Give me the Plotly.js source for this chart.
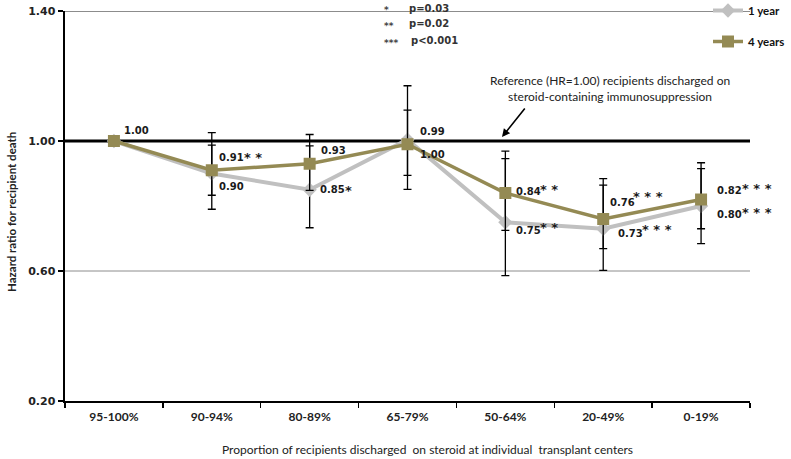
<!DOCTYPE html>
<html>
<head>
<meta charset="utf-8">
<script src="https://cdn.plot.ly/plotly-3.0.1.min.js"></script>
<style>html,body{margin:0;padding:0;background:#fff;}#chart{width:791px;height:459px;}</style>
</head>
<body>
<div id="chart"></div>
<script>
// ---- data ----
const categories = ['95-100%', '90-94%', '80-89%', '65-79%', '50-64%', '20-49%', '0-19%'];
const hr1Year  = [1.00, 0.90, 0.85, 1.004, 0.75, 0.73, 0.80];
const ci1YearLow  = [null, 0.79, 0.733, 0.851, 0.586, 0.602, 0.684];
const ci1YearHigh = [null, 1.026, 0.985, 1.17, 0.946, 0.884, 0.933];
const hr4Years = [1.00, 0.91, 0.93, 0.99, 0.84, 0.76, 0.82];
const ci4YearsLow  = [null, 0.833, 0.848, 0.894, 0.725, 0.669, 0.730];
const ci4YearsHigh = [null, 0.987, 1.02, 1.095, 0.969, 0.864, 0.915];
const stars1Year  = ['', '', '*', '', '**', '***', '***'];
const stars4Years = ['', '**', '', '', '**', '***', '***'];
const yTickValues = [0.20, 0.60, 1.00, 1.40];
const referenceHR = 1.00;
const pValueKey = [['*', 'p=0.03'], ['**', 'p=0.02'], ['***', 'p<0.001']];

// ---- styling / label placement (pixel offsets from each point) ----
const lab1Off = [null, [5, 13], [8, 0], [10, 15], [9, 8], [13, 5], [14, 8]];
const lab4Off = [[8, -11], [5, -13], [9, -13], [10, -13], [9, -2], [5, -17], [14, -9]];
const star1Off = [null, null, [39, -3], null, [44, 1], [54, -3], [56, 2]];
const star4Off = [null, [41, -17], null, null, [44, -8], [45, -27], [56, -15]];

const grey = '#c0c0c0', olive = '#948a54';
const errUp = (hi, v) => hi.map((h, i) => h == null ? null : h - v[i]);
const errDn = (lo, v) => lo.map((l, i) => l == null ? null : v[i] - l);

const trace1 = {
  x: categories, y: hr1Year, name: '1 year', type: 'scatter', mode: 'lines+markers',
  line: {color: grey, width: 4},
  marker: {symbol: 'diamond', size: 11, color: grey},
  error_y: {type: 'data', symmetric: false, array: errUp(ci1YearHigh, hr1Year),
            arrayminus: errDn(ci1YearLow, hr1Year), color: '#000', thickness: 1.3, width: 4},
  legendgroup: 'a'
};
const trace4 = {
  x: categories, y: hr4Years, name: '4 years', type: 'scatter', mode: 'lines+markers',
  line: {color: olive, width: 3.5},
  marker: {symbol: 'square', size: 12, color: olive},
  error_y: {type: 'data', symmetric: false, array: errUp(ci4YearsHigh, hr4Years),
            arrayminus: errDn(ci4YearsLow, hr4Years), color: '#000', thickness: 1.3, width: 4},
  legendgroup: 'b'
};

const labFont = {family: 'DejaVu Sans', size: 10, color: '#1a1a1a', weight: 'bold'};
const starFont = {family: 'DejaVu Sans', size: 13, color: '#1a1a1a', weight: 'bold'};
const ann = [];
function addLabels(vals, offs, stars, sOffs) {
  vals.forEach((v, i) => {
    if (offs[i]) ann.push({x: categories[i], y: v, xref: 'x', yref: 'y', text: v.toFixed(2),
      showarrow: false, xanchor: 'left', yanchor: 'middle', xshift: offs[i][0], yshift: -offs[i][1], font: labFont});
    if (stars[i] && sOffs[i]) ann.push({x: categories[i], y: v, xref: 'x', yref: 'y',
      text: stars[i].split('').join(' '), showarrow: false, xanchor: 'center', yanchor: 'middle',
      xshift: sOffs[i][0], yshift: -sOffs[i][1] - 4, font: starFont});
  });
}
addLabels(hr1Year, lab1Off, stars1Year, star1Off);
addLabels(hr4Years, lab4Off, stars4Years, star4Off);

// p-value key (paper coords from pixel positions)
const px = x => (x - 65) / 685, py = y => (401 - y) / 390;
pValueKey.forEach((row, i) => {
  const yy = [8, 24, 41][i];
  ann.push({x: px(382), y: py(yy + 2), xref: 'paper', yref: 'paper', text: row[0], showarrow: false,
    xanchor: 'left', yanchor: 'middle', font: {family: 'DejaVu Sans', size: 9, color: '#444', weight: 'bold'}});
  ann.push({x: px(i === 2 ? 409 : 407), y: py(yy), xref: 'paper', yref: 'paper', text: row[1], showarrow: false,
    xanchor: 'left', yanchor: 'middle', font: {family: 'DejaVu Sans', size: 10, color: '#333', weight: 'bold'}});
});

// reference note + arrow
ann.push({x: px(610), y: py(89), xref: 'paper', yref: 'paper',
  text: 'Reference (HR=1.00) recipients discharged on<br>steroid-containing immunosuppression',
  showarrow: false, xanchor: 'center', yanchor: 'middle', align: 'center',
  font: {family: 'Lato', size: 12, color: '#222'}});
ann.push({x: px(502), y: py(137), xref: 'paper', yref: 'paper', text: '', showarrow: true,
  ax: 24, ay: -30, axref: 'pixel', ayref: 'pixel', arrowhead: 2, arrowsize: 1, arrowwidth: 1.6, arrowcolor: '#000'});

// axis titles
ann.push({x: px(427), y: py(449), xref: 'paper', yref: 'paper',
  text: 'Proportion of recipients discharged  on steroid at individual  transplant centers',
  showarrow: false, xanchor: 'center', yanchor: 'middle', font: {family: 'Lato', size: 12, color: '#222'}});
ann.push({x: px(12), y: py(212), xref: 'paper', yref: 'paper', text: 'Hazard ratio for recipient death',
  textangle: -90, showarrow: false, xanchor: 'center', yanchor: 'middle',
  font: {family: 'Lato', size: 11.5, color: '#222', weight: 'bold'}});

// gridlines (grey) except the reference line and the bottom axis; top one thicker since half is clipped
const topTick = yTickValues[yTickValues.length - 1];
const shapes = yTickValues.filter(v => v !== referenceHR && v !== yTickValues[0]).map(v => ({
  type: 'line', xref: 'paper', yref: 'y', x0: 0, x1: 1, y0: v, y1: v,
  line: {color: '#8c8c8c', width: v === topTick ? 2 : 1}, layer: 'below'}));
shapes.push({type: 'line', xref: 'paper', yref: 'y', x0: 0, x1: 1, y0: referenceHR, y1: referenceHR,
  line: {color: '#000', width: 3}, layer: 'below'});

const layout = {
  width: 791, height: 459,
  margin: {l: 65, r: 41, t: 11, b: 58, pad: 0, autoexpand: false},
  paper_bgcolor: '#fff', plot_bgcolor: '#fff',
  showlegend: true,
  legend: {x: px(708), y: py(-4), xanchor: 'left', yanchor: 'top',
    traceorder: 'grouped', tracegroupgap: 12,
    font: {family: 'Lato', size: 11.5, color: '#111', weight: 'bold'}, bgcolor: 'rgba(0,0,0,0)', itemwidth: 30},
  xaxis: {type: 'category', range: [-0.5, 6.5], showline: true, linecolor: '#000', linewidth: 2,
    ticks: 'outside', tickson: 'boundaries', ticklen: 5, tickcolor: '#000', tickwidth: 1.5,
    showgrid: false, zeroline: false, automargin: false, ticklabelstandoff: 4,
    tickfont: {family: 'Lato', size: 12, color: '#222', weight: 'bold'}},
  yaxis: {range: [0.2, 1.4], tickvals: yTickValues, ticktext: yTickValues.map(v => v.toFixed(2)),
    showline: true, linecolor: '#000', linewidth: 2.5, ticks: 'outside', ticklen: 5, tickcolor: '#000', tickwidth: 1.5,
    showgrid: false, zeroline: false, automargin: false,
    tickfont: {family: 'DejaVu Sans', size: 11, color: '#222', weight: 'bold'}},
  shapes: shapes,
  annotations: ann
};

Plotly.newPlot('chart', [trace1, trace4], layout, {displayModeBar: false, staticPlot: true});
</script>
</body>
</html>
